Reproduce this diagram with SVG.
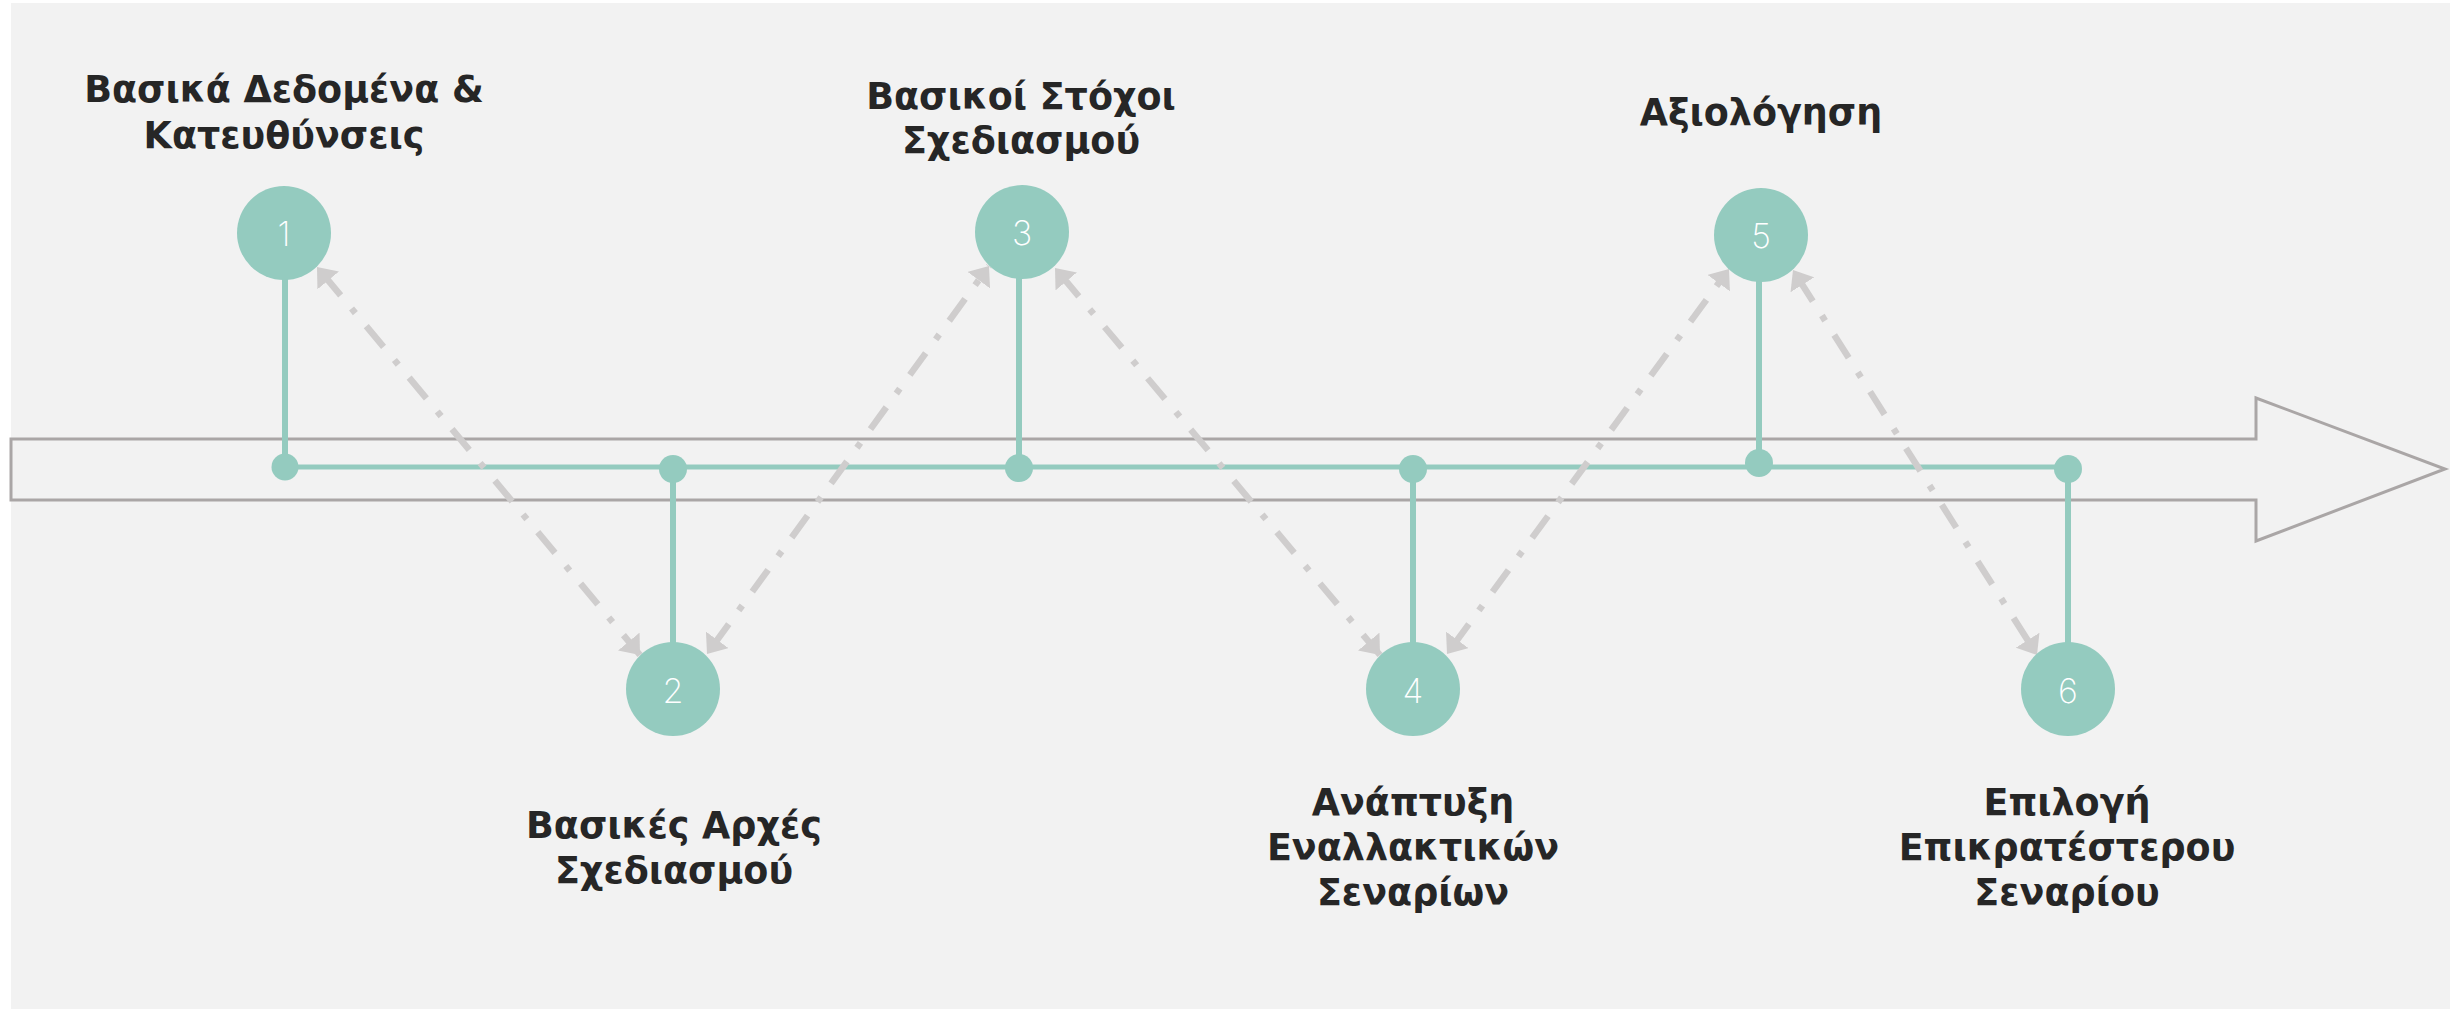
<svg xmlns="http://www.w3.org/2000/svg" width="2450" height="1010" viewBox="0 0 2450 1010">
<defs>
<style>
.lbl{font-family:"DejaVu Sans","Verdana","Noto Sans",sans-serif;font-weight:bold;font-size:36.5px;fill:#262626;text-anchor:middle}
.num{font-family:Inter,"Open Sans","Lato",sans-serif;font-weight:200;font-size:34px;fill:#ffffff;text-anchor:middle}
.node circle.big{fill:#94cbbf}
.dot{fill:#94cbbf}
.stem{stroke:#94cbbf;stroke-width:6;fill:none}
.flow{stroke:#cfcdcd;stroke-width:6.5;fill:none;stroke-dasharray:27 17 6 17;stroke-dashoffset:57;marker-start:url(#ah);marker-end:url(#ah)}
</style>
<marker id="ah" viewBox="0 0 18 28" refX="17.5" refY="14" markerWidth="18" markerHeight="28" markerUnits="userSpaceOnUse" orient="auto-start-reverse">
<path d="M0,0 L17.5,14 L0,28 Z" fill="#cfcdcd"/>
</marker>
</defs>
<rect x="0" y="0" width="2450" height="1010" fill="#ffffff"/>
<rect x="11" y="3" width="2439" height="1006" fill="#f2f2f2"/>
<polygon id="timeline-arrow" points="11,439 2256,439 2256,398 2445,469 2256,541 2256,500 11,500" fill="#f2f2f2" stroke="#aaa6a6" stroke-width="3"/>
<g id="connectors">
<line x1="285" y1="467" x2="2068" y2="467" stroke="#94cbbf" stroke-width="5"/>
<line class="stem" x1="285" y1="275" x2="285" y2="467"/>
<line class="stem" x1="673" y1="469" x2="673" y2="645"/>
<line class="stem" x1="1019" y1="275" x2="1019" y2="468"/>
<line class="stem" x1="1413" y1="469" x2="1413" y2="645"/>
<line class="stem" x1="1759" y1="278" x2="1759" y2="463"/>
<line class="stem" x1="2068" y1="469" x2="2068" y2="645"/>
<line class="flow" x1="317" y1="267" x2="640" y2="655"/>
<line class="flow" x1="707" y1="654" x2="989" y2="266"/>
<line class="flow" x1="1055" y1="268" x2="1380" y2="655"/>
<line class="flow" x1="1447" y1="654" x2="1729" y2="269"/>
<line class="flow" x1="1793" y1="270" x2="2037" y2="655"/>
<circle class="dot" cx="285" cy="467" r="13.5"/>
<circle class="dot" cx="673" cy="469" r="14"/>
<circle class="dot" cx="1019" cy="468" r="14"/>
<circle class="dot" cx="1413" cy="469" r="14"/>
<circle class="dot" cx="1759" cy="463" r="14"/>
<circle class="dot" cx="2068" cy="469" r="14"/>
</g>
<g id="node1" class="node">
<circle class="big" cx="284" cy="233" r="47"/>
<text class="num" x="284" y="246">1</text>
<text class="lbl" x="284" y="102">Βασικά Δεδομένα &amp;</text>
<text class="lbl" x="284" y="148">Κατευθύνσεις</text>
</g>
<g id="node2" class="node">
<circle class="big" cx="673" cy="689" r="47"/>
<text class="num" x="673" y="703">2</text>
<text class="lbl" x="674" y="838">Βασικές Αρχές</text>
<text class="lbl" x="674" y="883">Σχεδιασμού</text>
</g>
<g id="node3" class="node">
<circle class="big" cx="1022" cy="232" r="47"/>
<text class="num" x="1022" y="245">3</text>
<text class="lbl" x="1021" y="109">Βασικοί Στόχοι</text>
<text class="lbl" x="1021" y="153">Σχεδιασμού</text>
</g>
<g id="node4" class="node">
<circle class="big" cx="1413" cy="689" r="47"/>
<text class="num" x="1413" y="703">4</text>
<text class="lbl" x="1413" y="815">Ανάπτυξη</text>
<text class="lbl" x="1413" y="860">Εναλλακτικών</text>
<text class="lbl" x="1413" y="905">Σεναρίων</text>
</g>
<g id="node5" class="node">
<circle class="big" cx="1761" cy="235" r="47"/>
<text class="num" x="1761" y="248">5</text>
<text class="lbl" x="1761" y="125">Αξιολόγηση</text>
</g>
<g id="node6" class="node">
<circle class="big" cx="2068" cy="689" r="47"/>
<text class="num" x="2068" y="703">6</text>
<text class="lbl" x="2067" y="815">Επιλογή</text>
<text class="lbl" x="2067" y="860">Επικρατέστερου</text>
<text class="lbl" x="2067" y="905">Σεναρίου</text>
</g>
</svg>
